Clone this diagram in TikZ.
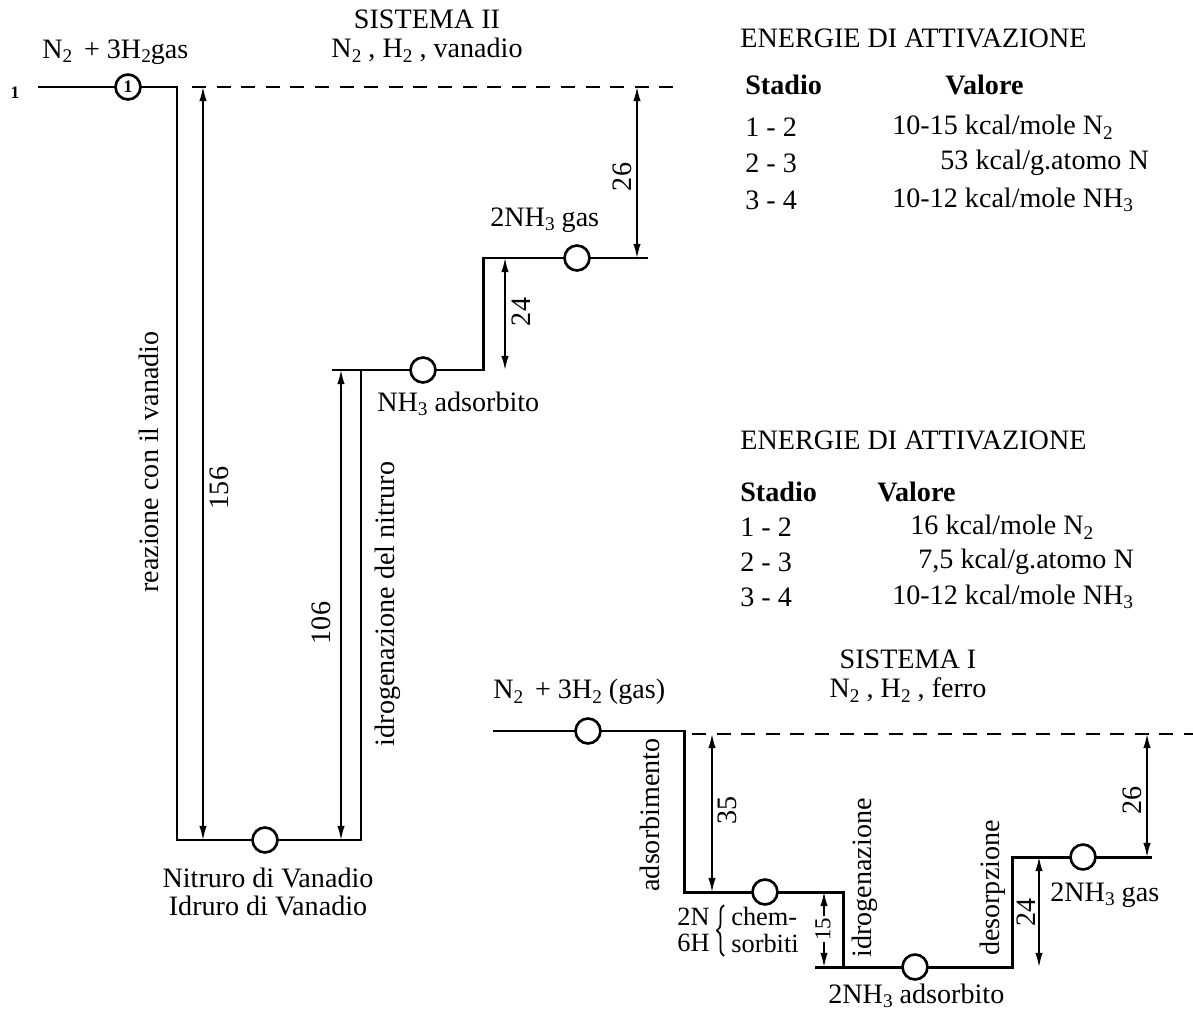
\documentclass[tikz,border=0pt]{standalone}
\usepackage{fontspec}
\setmainfont{Liberation Serif}
\usetikzlibrary{arrows.meta,decorations.pathreplacing}
\newcommand\lw[1]{\raisebox{-0.35ex}{\fontsize{11}{11}\selectfont #1}}
\begin{document}
\begin{tikzpicture}[x=0.02cm,y=-0.02cm,
  lvl/.style={line width=1.7pt},
  dimarrow/.style={line width=0.9pt,{Latex[length=8pt,width=4.2pt]}-{Latex[length=8pt,width=4.2pt]}},
  stato/.style={circle,draw,line width=1.5pt,fill=white,minimum size=14.2pt,inner sep=0pt},
  dsh/.style={line width=1.1pt,dash pattern=on 8pt off 6pt},
  txt/.style={inner sep=0pt,font=\fontsize{16}{18}\selectfont},
  btxt/.style={txt,font=\fontsize{16}{18}\selectfont\bfseries},
  rtxt/.style={txt,rotate=90},
  twoc/.style={inner sep=0pt,align=center,font=\fontsize{16}{16.6}\selectfont},
  twol/.style={inner sep=0pt,align=left,anchor=west,font=\fontsize{15}{15}\selectfont},
  num/.style={txt,rotate=90,fill=white,inner sep=1pt}]
\useasboundingbox (0,0) rectangle (1193,1013);

% ---------------- SISTEMA II ----------------
\coordinate (a0) at (38,87);
\coordinate (a1) at (177,87);
\coordinate (a2) at (177,840);
\coordinate (a3) at (361,840);
\coordinate (a4) at (361,370);
\coordinate (b0) at (332,370);
\coordinate (b1) at (483,370);
\coordinate (b2) at (483,258);
\coordinate (b3) at (648,258);
\draw[lvl] (a0) -- (a1) -- (a2) -- (a3) -- (a4);
\draw[lvl] (b0) -- (b1) -- (b2) -- (b3);
\coordinate (d0) at (192,87);
\coordinate (d1) at (680,87);
\draw[dsh] (d0) -- (d1);

\node[stato,font=\fontsize{10}{10}\selectfont\bfseries] (s1) at (128,87) {1};
\node[stato] (s2) at (265,840) {};
\node[stato] (s3) at (423,370) {};
\node[stato] (s4) at (577,258) {};

% dimension arrows
\coordinate (p156t) at (203,87);  \coordinate (p156b) at (203,840);
\coordinate (p106t) at (341,370); \coordinate (p106b) at (341,840);
\coordinate (p24t) at (505,258);  \coordinate (p24b) at (505,370);
\coordinate (p26t) at (637,87);   \coordinate (p26b) at (637,258);
\draw[dimarrow] (p156t) -- (p156b);
\draw[dimarrow] (p106t) -- (p106b);
\draw[dimarrow] (p24t) -- (p24b);
\draw[dimarrow] (p26t) -- (p26b);
\node[txt,rotate=90] (l156) at (219,488) {156};
\node[txt,rotate=90] (l106) at (321,623) {106};
\node[txt,rotate=90] (l24) at (521,312) {24};
\node[txt,rotate=90] (l26) at (622,177) {26};

\node[txt,font=\fontsize{10}{10}\selectfont\bfseries] (one) at (15,93) {1};
\node[txt,anchor=west] (r1) at (42,52) {N\lw{2} \,+ 3H\lw{2}gas};
\node[twoc] (t2) at (427,36) {SISTEMA II\\N\lw{2} , H\lw{2} , vanadio};
\node[txt,anchor=west] (r4) at (490,220) {2NH\lw{3} gas};
\node[txt,anchor=west] (r3) at (377,404) {NH\lw{3} adsorbito};
\node[twoc,font=\fontsize{16}{15.6}\selectfont] (r2) at (268,892) {Nitruro di Vanadio\\Idruro di Vanadio};
\node[rtxt] (q1) at (149,462) {reazione con il vanadio};
\node[rtxt] (q2) at (388,604) {idrogenazione del nitruro};

% ---------------- TABELLE ----------------
\node[txt,anchor=west] (e1) at (740,38) {ENERGIE DI ATTIVAZIONE};
\node[btxt,anchor=west] (e1s) at (745,85) {Stadio};
\node[btxt,anchor=west] (e1v) at (945,85) {Valore};
\node[txt,anchor=west] (e1r1) at (745,127) {1 - 2};
\node[txt,anchor=west] (e1r2) at (745,163) {2 - 3};
\node[txt,anchor=west] (e1r3) at (745,200) {3 - 4};
\node[txt,anchor=west] (e1v1) at (892,127) {10-15 kcal/mole N\lw{2}};
\node[txt,anchor=west] (e1v2) at (940,163) {53 kcal/g.atomo N};
\node[txt,anchor=west] (e1v3) at (892,200) {10-12 kcal/mole NH\lw{3}};

\node[txt,anchor=west] (e2) at (740,440) {ENERGIE DI ATTIVAZIONE};
\node[btxt,anchor=west] (e2s) at (740,492) {Stadio};
\node[btxt,anchor=west] (e2v) at (877,492) {Valore};
\node[txt,anchor=west] (e2r1) at (740,527) {1 - 2};
\node[txt,anchor=west] (e2r2) at (740,562) {2 - 3};
\node[txt,anchor=west] (e2r3) at (740,597) {3 - 4};
\node[txt,anchor=west] (e2v1) at (910,527) {16 kcal/mole N\lw{2}};
\node[txt,anchor=west] (e2v2) at (918,562) {7,5 kcal/g.atomo N};
\node[txt,anchor=west] (e2v3) at (892,597) {10-12 kcal/mole NH\lw{3}};

% ---------------- SISTEMA I ----------------
\coordinate (e0c) at (493,731);
\coordinate (e1c) at (684,731);
\coordinate (e2c) at (684,892);
\coordinate (e3c) at (843,892);
\coordinate (e4c) at (843,967);
\coordinate (f0) at (815,967);
\coordinate (f1) at (1012,967);
\coordinate (f2) at (1012,857);
\coordinate (f3) at (1152,857);
\draw[lvl] (e0c) -- (e1c) -- (e2c) -- (e3c) -- (e4c);
\draw[lvl] (f0) -- (f1) -- (f2) -- (f3);
\coordinate (g0) at (692,734);
\coordinate (g1) at (1193,734);
\draw[dsh] (g0) -- (g1);

\node[stato] (u1) at (588,731) {};
\node[stato] (u2) at (765,892) {};
\node[stato] (u3) at (915,967) {};
\node[stato] (u4) at (1083,857) {};

\coordinate (p35t) at (712,734);  \coordinate (p35b) at (712,892);
\coordinate (p15t) at (824,892);  \coordinate (p15b) at (824,967);
\coordinate (q24t) at (1039,857); \coordinate (q24b) at (1039,967);
\coordinate (q26t) at (1147,734); \coordinate (q26b) at (1147,857);
\draw[dimarrow] (p35t) -- (p35b);
\draw[dimarrow] (p15t) -- (p15b);
\draw[dimarrow] (q24t) -- (q24b);
\draw[dimarrow] (q26t) -- (q26b);
\node[txt,rotate=90] (m35) at (727,810) {35};
\node[num,font=\fontsize{13}{13}\selectfont] (m15) at (823,929) {15};
\node[txt,rotate=90] (m24) at (1026,912) {24};
\node[txt,rotate=90] (m26) at (1132,800) {26};

\node[twoc] (t1) at (908,676) {SISTEMA I\\N\lw{2} , H\lw{2} , ferro};
\node[txt,anchor=west] (w1) at (493,692) {N\lw{2} \,+ 3H\lw{2} (gas)};
\node[rtxt] (k1) at (650,815) {adsorbimento};
\node[rtxt] (k2) at (865,878) {idrogenazione};
\node[rtxt] (k3) at (993,888) {desorpzione};
\node[twol] (w2) at (677,930) {2N\\6H};
\coordinate (br0) at (724,956);
\coordinate (br1) at (724,905);
\draw[line width=1pt,decorate,decoration={brace,amplitude=4pt}] (br0) -- (br1);
\node[twol] (w2c) at (731,930) {chem-\\sorbiti};
\node[txt,anchor=west] (w4) at (1050,895) {2NH\lw{3} gas};
\node[txt,anchor=west] (w3) at (828,996) {2NH\lw{3} adsorbito};
\end{tikzpicture}
\end{document}
